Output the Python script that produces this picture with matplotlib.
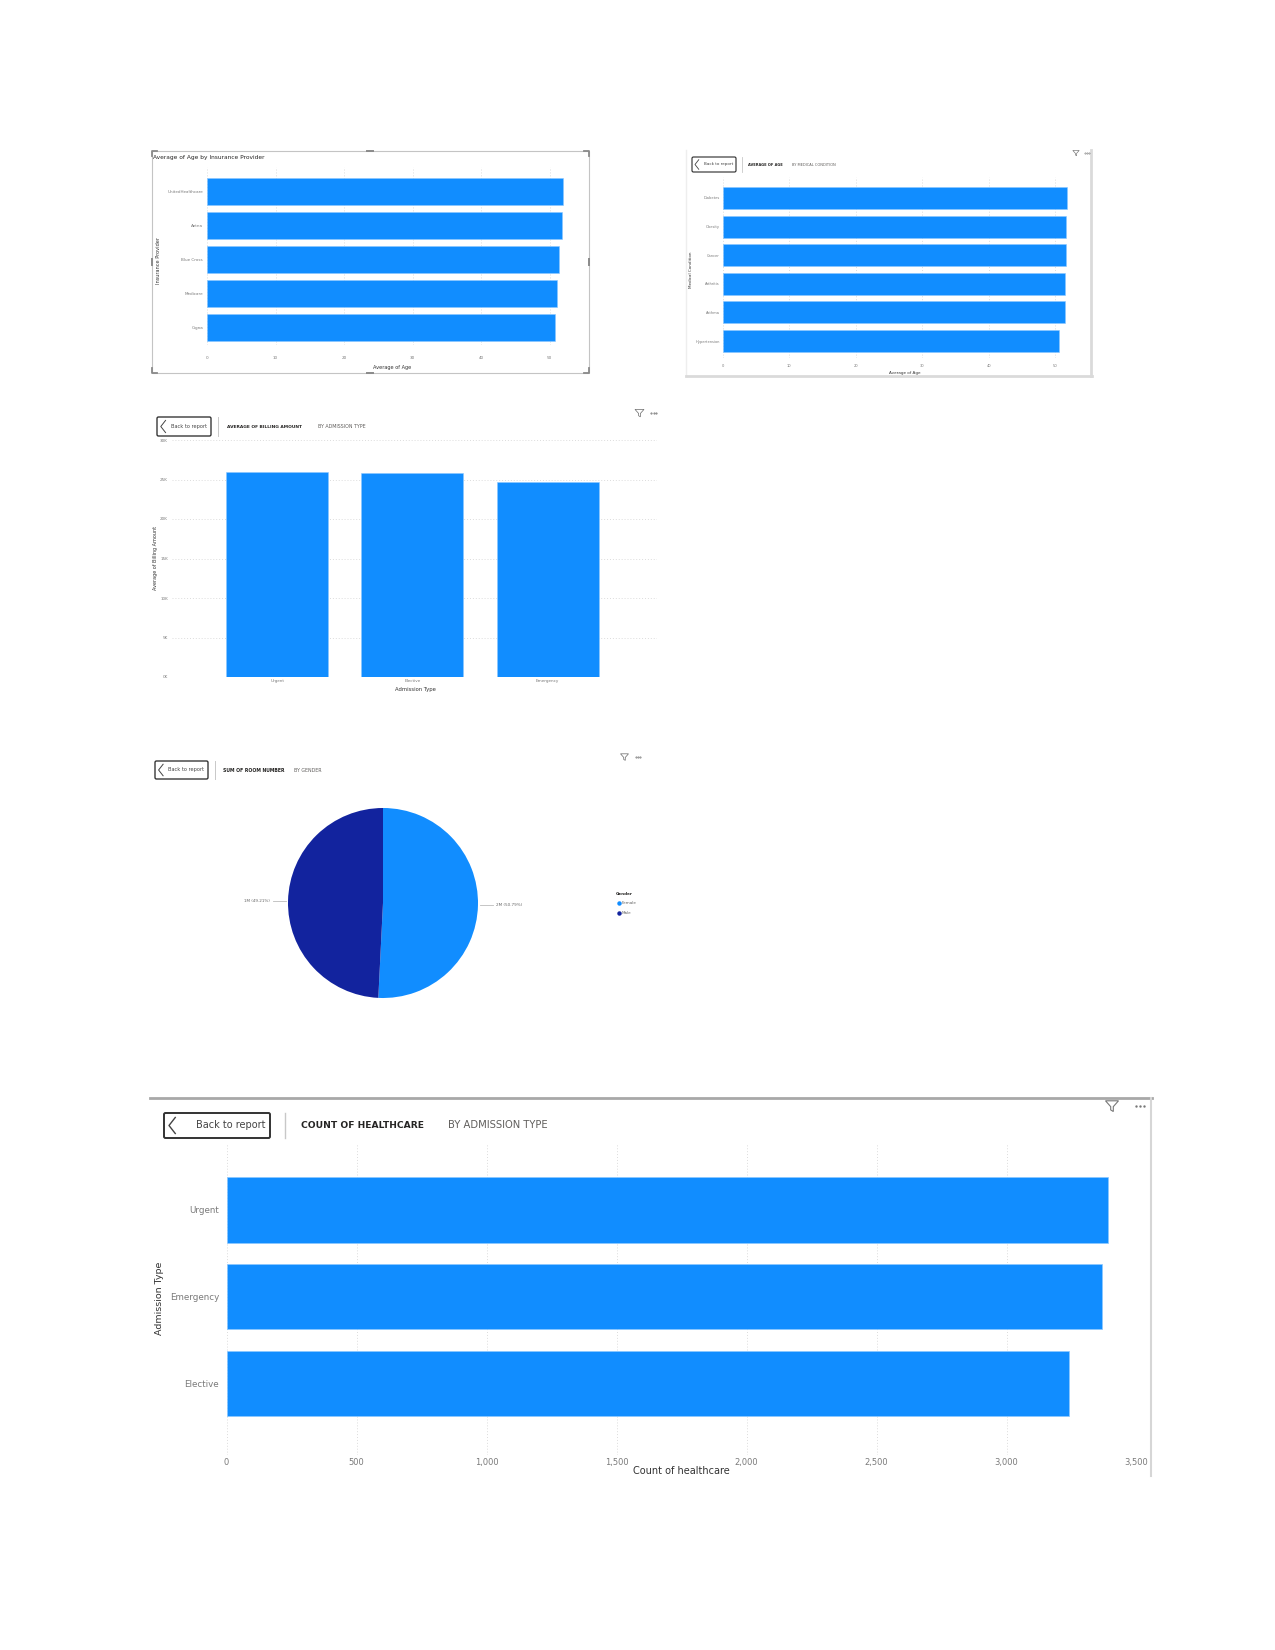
import numpy as np
import matplotlib.pyplot as plt
from matplotlib.patches import FancyBboxPatch, Rectangle, Polygon

plt.rcParams['font.family'] = ['DejaVu Sans']

W, H = 1275, 1650
BLUE = '#118DFF'
NAVY = '#12239E'
GRID = '#dcdcdc'
TICK = '#7a7a7a'
DARK = '#252423'
SUB = '#605e5c'

# ---- data ----
providers = ['UnitedHealthcare', 'Aetna', 'Blue Cross', 'Medicare', 'Cigna']
provider_age = [52.0, 51.8, 51.3, 51.05, 50.8]

conditions = ['Diabetes', 'Obesity', 'Cancer', 'Arthritis', 'Asthma', 'Hypertension']
condition_age = [51.7, 51.6, 51.6, 51.5, 51.45, 50.6]

billing_types = ['Urgent', 'Elective', 'Emergency']
billing_avg = [25900, 25850, 24650]

genders = ['Female', 'Male']
room_sum = [1520000, 1473000]
gender_colors = [BLUE, NAVY]

count_types = ['Urgent', 'Emergency', 'Elective']
count_values = [3390, 3367, 3240]

fig = plt.figure(figsize=(W / 100, H / 100), dpi=100)
fig.patch.set_facecolor('white')

# background axes in pixel coordinates for frames, headers and free text
bg = fig.add_axes([0, 0, 1, 1])
bg.set_xlim(0, W)
bg.set_ylim(H, 0)
bg.axis('off')


def box(x0, y0, x1, y1):
    return fig.add_axes([x0 / W, 1 - y1 / H, (x1 - x0) / W, (y1 - y0) / H])


def style(ax, fs, xpad, ypad, grid_axis):
    for sp in ax.spines.values():
        sp.set_visible(False)
    ax.tick_params(axis='both', length=0, labelsize=fs, labelcolor=TICK)
    ax.tick_params(axis='x', pad=xpad * 0.72)
    ax.tick_params(axis='y', pad=ypad * 0.72)
    ax.grid(axis=grid_axis, ls=(0, (1, 2)), color=GRID, lw=0.7)
    ax.set_axisbelow(True)
    ax.set_facecolor('none')


def funnel(cx, cy, s, lw):
    pts = [(cx - s, cy - s * 0.8), (cx + s, cy - s * 0.8), (cx + s * 0.2, cy + s * 0.1),
           (cx + s * 0.2, cy + s * 0.85), (cx - s * 0.2, cy + s * 0.6), (cx - s * 0.2, cy + s * 0.1)]
    bg.add_patch(Polygon(pts, closed=True, fill=False, ec='#777777', lw=lw))


def header(b, sep_x, t_x, s_x, title, sub, fs, sfs, bfs, icon, dots_x, lw=0.8):
    x0, y0, x1, y1 = b
    h = y1 - y0
    cy = (y0 + y1) / 2
    bg.add_patch(FancyBboxPatch((x0, y0), x1 - x0, h, boxstyle='round,pad=0,rounding_size=1.5',
                                fc='white', ec='#333333', lw=lw * 1.4))
    tip = x0 + 0.2 * h
    bg.plot([tip + 0.25 * h, tip, tip + 0.25 * h], [cy - 0.32 * h, cy, cy + 0.32 * h],
            color='#444444', lw=lw)
    bg.text(x1 - 0.2 * h, cy, 'Back to report', ha='right', va='center', fontsize=bfs, color='#444444')
    bg.plot([sep_x, sep_x], [y0, y1], color='#c8c8c8', lw=lw)
    bg.text(t_x, cy, title, ha='left', va='center', fontsize=fs, color=DARK, fontweight='bold')
    bg.text(s_x, cy, sub, ha='left', va='center', fontsize=sfs, color=SUB)
    fx, fy, fsz = icon
    funnel(fx, fy, fsz, lw * 0.8)
    d = fsz * 0.55
    bg.plot([dots_x - d, dots_x, dots_x + d], [fy] * 3, 'o', ms=fsz * 0.11, color='#777777')


# ---------------- chart 1: average age by insurance provider ----------------
bg.add_patch(Rectangle((152, 151), 437, 222, fill=False, ec='#c4c4c4', lw=0.8))
for cx, cy, sx, sy in [(152, 151, 1, 1), (589, 151, -1, 1), (152, 373, 1, -1), (589, 373, -1, -1)]:
    bg.plot([cx + sx * 5, cx, cx], [cy, cy, cy + sy * 5], color='#8a8a8a', lw=1.3)
for hx, hy, horiz in [(370, 151, True), (370, 373, True), (152, 262, False), (589, 262, False)]:
    if horiz:
        bg.plot([hx - 3, hx + 3], [hy, hy], color='#8a8a8a', lw=1.4)
    else:
        bg.plot([hx, hx], [hy - 3, hy + 3], color='#8a8a8a', lw=1.4)
bg.text(153, 157, 'Average of Age by Insurance Provider', ha='left', va='center', fontsize=4.2, color=DARK)

ax1 = box(207, 167, 577, 345)
y1 = np.arange(len(providers))
ax1.barh(y1, provider_age, height=0.79, color=BLUE, ec='#8cc8ff', lw=0.4)
ax1.set_xlim(0, 54)
ax1.set_ylim(4.51, -0.72)
ax1.set_xticks(range(0, 51, 10))
ax1.set_yticks(y1, providers)
style(ax1, 3, 11, 4, 'x')
bg.text(392, 367, 'Average of Age', ha='center', va='center', fontsize=3.6, color='#333333')
bg.text(158, 260, 'Insurance Provider', rotation=90, ha='center', va='center', fontsize=3.6, color='#333333')

# ---------------- chart 2: average age by medical condition ----------------
bg.plot([686, 686], [150, 376], color='#eeeeee', lw=1)
bg.plot([1091, 1091], [150, 376], color='#dadada', lw=2)
bg.plot([686, 1092], [376, 376], color='#dadada', lw=2)
header((692, 157, 736, 172), 742, 748, 792, 'AVERAGE OF AGE', 'BY MEDICAL CONDITION',
       2.6, 2.6, 3.0, (1076, 153, 3.2), 1087, lw=0.6)

ax2 = box(722.7, 177, 1088.5, 358)
y2 = np.arange(len(conditions))
ax2.barh(y2, condition_age, height=0.77, color=BLUE, ec='#8cc8ff', lw=0.4)
ax2.set_xlim(0, 55)
ax2.set_ylim(5.59, -0.73)
ax2.set_xticks(range(0, 51, 10))
ax2.set_yticks(y2, conditions)
style(ax2, 2.6, 6, 3, 'x')
bg.text(905, 373, 'Average of Age', ha='center', va='center', fontsize=3, color='#333333')
bg.text(691, 270, 'Medical Condition', rotation=90, ha='center', va='center', fontsize=3, color='#333333')

# ---------------- chart 3: average billing amount by admission type ----------------
header((157, 417, 211, 436), 218, 227, 318, 'AVERAGE OF BILLING AMOUNT', 'BY ADMISSION TYPE',
       3.2, 3.4, 3.6, (639.5, 413, 4.5), 653.5, lw=0.7)

ax3 = box(172, 440, 657, 677)
x3 = np.arange(len(billing_types))
ax3.bar(x3, billing_avg, width=0.755, color=BLUE, ec='#8cc8ff', lw=0.4)
ax3.set_xlim(-0.78, 2.81)
ax3.set_ylim(0, 30000)
yt3 = np.arange(0, 30001, 5000)
ax3.set_yticks(yt3, [f'{v // 1000}K' for v in yt3])
ax3.set_xticks(x3, billing_types)
style(ax3, 3, 2, 4, 'y')
bg.text(415, 689, 'Admission Type', ha='center', va='center', fontsize=3.8, color='#333333')
bg.text(155, 558, 'Average of Billing Amount', rotation=90, ha='center', va='center',
        fontsize=3.5, color='#333333')

# ---------------- chart 4: sum of room number by gender ----------------
header((155, 761, 208, 779), 215, 223, 294, 'SUM OF ROOM NUMBER', 'BY GENDER',
       3.3, 3.4, 3.6, (624.5, 757, 4), 638, lw=0.7)

R = 95
ax4 = box(383 - R, 903 - R, 383 + R, 903 + R)
wedges, _ = ax4.pie(room_sum, colors=gender_colors, startangle=90, counterclock=False,
                    radius=1, wedgeprops=dict(linewidth=0))
ax4.set_xlim(-1, 1)
ax4.set_ylim(-1, 1)
ax4.set_aspect('equal')
ax4.axis('off')
total = sum(room_sum)
for w, v in zip(wedges, room_sum):
    th = np.deg2rad((w.theta1 + w.theta2) / 2)
    px, py = np.cos(th), np.sin(th)
    sgn = 1 if px > 0 else -1
    ax4.plot([px + sgn * 0.02, px + sgn * 0.16], [py, py], color='#bbbbbb', lw=0.6, clip_on=False)
    ax4.text(px + sgn * 0.19, py, f'{round(v / 1e6)}M ({v / total * 100:.2f}%)',
             ha='left' if sgn > 0 else 'right', va='center', fontsize=3, color='#666666', clip_on=False)

bg.text(616, 894, 'Gender', ha='left', va='center', fontsize=3, color=DARK, fontweight='bold')
for i, (g, c) in enumerate(zip(genders, gender_colors)):
    yy = 903 + i * 10
    bg.plot(618.5, yy, 'o', ms=2.2, color=c)
    bg.text(621.5, yy, g, ha='left', va='center', fontsize=3, color='#666666')

# ---------------- chart 5: count of healthcare by admission type ----------------
bg.plot([150, 1152], [1098, 1098], color='#a8a8a8', lw=2)
bg.plot([1151, 1151], [1098, 1476], color='#d6d6d6', lw=1.5)
header((164, 1113, 270, 1138), 285, 301, 448, 'COUNT OF HEALTHCARE', 'BY ADMISSION TYPE',
       6.6, 7.2, 7, (1112, 1106, 6.5), 1140, lw=1.0)

ax5 = box(226.5, 1143, 1136.5, 1455)
y5 = np.arange(len(count_types))
ax5.barh(y5, count_values, height=0.75, color=BLUE, ec='#8cc8ff', lw=0.5)
ax5.set_xlim(0, 3500)
ax5.set_ylim(2.82, -0.77)
xt5 = np.arange(0, 3501, 500)
ax5.set_xticks(xt5, [f'{v:,}' for v in xt5])
ax5.set_yticks(y5, count_types)
style(ax5, 6, 3, 7.5, 'x')
ax5.tick_params(axis='y', labelsize=6.3)
bg.text(681, 1471, 'Count of healthcare', ha='center', va='center', fontsize=7, color='#333333')
bg.text(160, 1298, 'Admission Type', rotation=90, ha='center', va='center', fontsize=6.8,
        color='#333333', family=['Liberation Sans Narrow', 'DejaVu Sans'])

fig.savefig('out.png', dpi=100, facecolor='white')
